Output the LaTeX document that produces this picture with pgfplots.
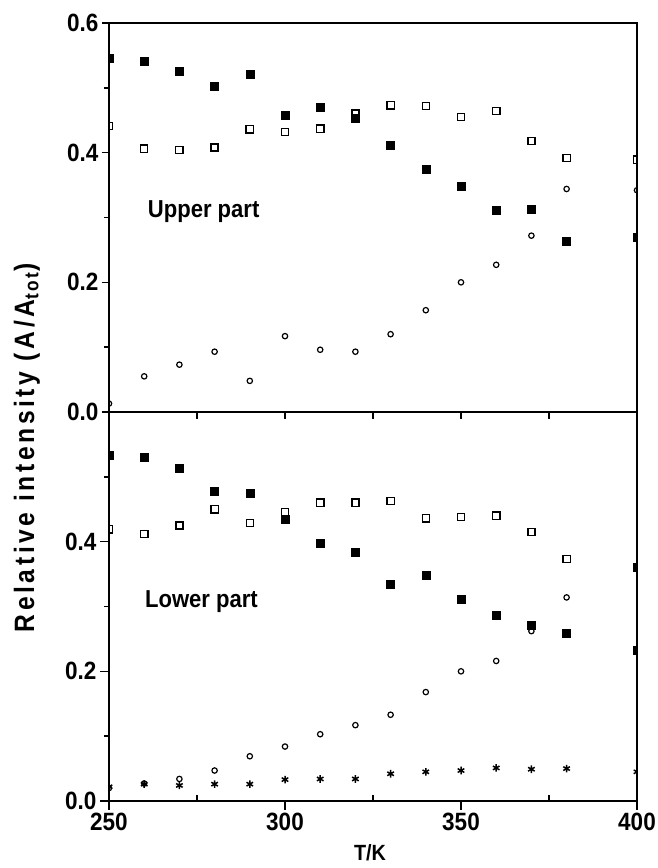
\documentclass[border=0pt]{standalone}
\usepackage{fontspec}
\setmainfont{Liberation Sans}
\newfontfamily\tfont{Liberation Sans}[FakeStretch=0.9]
\newfontfamily\labfont{Liberation Sans}[FakeStretch=0.88, LetterSpace=13]
\usepackage{pgfplots}
\pgfplotsset{compat=1.18}
\pgfplotsset{
  myax/.style={
    scale only axis, width=528pt, height=389pt,
    xmin=250, xmax=400, ymin=0, ymax=0.6,
    axis line style={line width=2pt},
    tick style={line width=1.6pt, black},
    major tick length=9pt, minor tick length=5pt,
    ytick pos=left, xtick pos=lower, tick align=outside,
    minor ytick={0.1,0.3,0.5},
    /pgf/number format/assume math mode=true,
    yticklabel style={font=\tfont\bfseries\fontsize{25}{30}\selectfont,
      /pgf/number format/.cd, fixed, fixed zerofill, precision=1},
    xticklabel style={font=\tfont\bfseries\fontsize{25}{30}\selectfont},
    clip marker paths=true,
  },
  fsq/.style={only marks, mark=square*, mark size=4pt, mark options={fill=black, draw=black, line width=0.5pt}},
  osq/.style={only marks, mark=square, mark size=3.6pt, mark options={draw=black, line width=1.4pt}},
  ocir/.style={only marks, mark=o, mark size=2.7pt, mark options={draw=black, line width=1.2pt}},
  ast/.style={only marks, mark=asterisk, mark size=3.8pt, mark options={draw=black, line width=1.5pt}},
}
\begin{document}
\begin{tikzpicture}[x=1pt,y=1pt]
\path[use as bounding box] (-109,-67) rectangle (548,801);
% upper panel
\begin{axis}[myax, at={(0pt,389pt)}, anchor=south west,
  ytick={0,0.2,0.4,0.6},
  xtick={275,300,325,350,375}, xticklabels={}, major tick length=7pt]
\addplot[fsq] coordinates {(250,0.545)(260,0.541)(270,0.526)(280,0.503)(290,0.521)(300,0.457)(310,0.470)(320,0.453)(330,0.411)(340,0.375)(350,0.348)(360,0.311)(370,0.312)(380,0.264)(400,0.269)};
\addplot[osq] coordinates {(250,0.441)(260,0.406)(270,0.404)(280,0.408)(290,0.436)(300,0.432)(310,0.437)(320,0.460)(330,0.473)(340,0.472)(350,0.455)(360,0.464)(370,0.418)(380,0.392)(400,0.389)};
\addplot[ocir] coordinates {(250,0.013)(260,0.055)(270,0.073)(280,0.093)(290,0.048)(300,0.117)(310,0.096)(320,0.093)(330,0.120)(340,0.157)(350,0.200)(360,0.227)(370,0.272)(380,0.344)(400,0.342)};
\node[anchor=base west, font=\tfont\bfseries\fontsize{24.5}{28}\selectfont, inner sep=0pt] at (axis cs:261,0.30) {Upper part};
\end{axis}
% lower panel
\begin{axis}[myax, at={(0pt,0pt)}, anchor=south west,
  ytick={0,0.2,0.4},
  xtick={250,300,350,400},
  extra x ticks={275,325,375}, extra x tick labels={},
  extra x tick style={tick align=inside, major tick length=6pt}]
\addplot[fsq] coordinates {(250,0.534)(260,0.530)(270,0.514)(280,0.477)(290,0.474)(300,0.434)(310,0.397)(320,0.384)(330,0.334)(340,0.348)(350,0.311)(360,0.287)(370,0.271)(380,0.259)(400,0.233)(400,0.360)};
\addplot[osq] coordinates {(250,0.419)(260,0.412)(270,0.425)(280,0.450)(290,0.429)(300,0.446)(310,0.460)(320,0.460)(330,0.463)(340,0.436)(350,0.438)(360,0.440)(370,0.415)(380,0.373)};
\addplot[ocir] coordinates {(250,0.020)(260,0.027)(270,0.034)(280,0.047)(290,0.069)(300,0.084)(310,0.103)(320,0.117)(330,0.133)(340,0.168)(350,0.200)(360,0.216)(370,0.262)(380,0.314)};
\addplot[ast] coordinates {(250,0.022)(260,0.026)(270,0.024)(280,0.026)(290,0.026)(300,0.033)(310,0.034)(320,0.034)(330,0.042)(340,0.045)(350,0.047)(360,0.051)(370,0.049)(380,0.050)(400,0.045)};
\node[anchor=base west, font=\tfont\bfseries\fontsize{24.5}{28}\selectfont, inner sep=0pt] at (axis cs:260.2,0.299) {Lower part};
\end{axis}
\node[rotate=90, anchor=center, font=\labfont\bfseries\fontsize{28}{32}\selectfont, inner sep=0pt] at (-82,353) {Relative intensity (A/A\textsubscript{tot})};
\node[anchor=base, font=\tfont\bfseries\fontsize{22}{26}\selectfont, inner sep=0pt] at (261,-59) {T/K};
\end{tikzpicture}
\end{document}
